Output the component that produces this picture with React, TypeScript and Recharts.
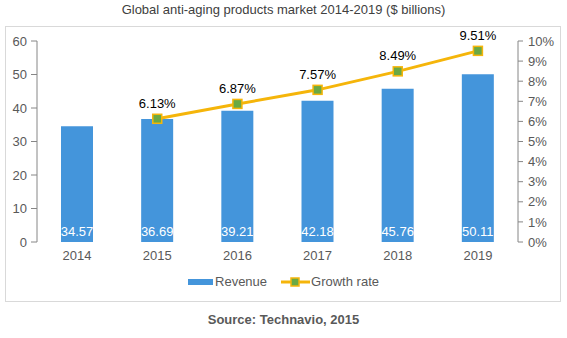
import React from 'react';
import {
  ComposedChart,
  Bar,
  Line,
  XAxis,
  YAxis,
  LabelList,
} from 'recharts';

const years = ['2014', '2015', '2016', '2017', '2018', '2019'];
const revenue = [34.57, 36.69, 39.21, 42.18, 45.76, 50.11];
const growth = [null, 6.13, 6.87, 7.57, 8.49, 9.51];
const leftTicks = [0, 10, 20, 30, 40, 50, 60];
const rightTicks = [0, 1, 2, 3, 4, 5, 6, 7, 8, 9, 10];
const bandTicks = [0, 1, 2, 3, 4, 5, 6];

const data = years.map((year, i) => ({
  year,
  revenue: revenue[i],
  growth: growth[i],
}));

const BAR = '#4495db';
const LINE = '#f5b50a';
const MARK = '#6aa944';
const AXIS = '#868686';
const TEXT = '#595959';
const FONT = '"Liberation Sans", Arial, sans-serif';

const SquareDot = (props: any) => {
  const { cx, cy } = props;
  if (cx == null || cy == null || props.value == null) return null;
  return (
    <rect x={cx - 4.5} y={cy - 4.5} width={9} height={9} fill={MARK} stroke={LINE} strokeWidth={1.5} />
  );
};

const LegendContent = () => (
  <div style={{ display: 'flex', justifyContent: 'center', alignItems: 'center', fontSize: 13, color: TEXT, fontFamily: FONT }}>
    <span style={{ display: 'inline-block', width: 25, height: 6, background: BAR, marginRight: 2 }} />
    <span style={{ marginRight: 14 }}>Revenue</span>
    <svg width={29} height={10} style={{ marginRight: 1 }}>
      <line x1={0} y1={5} x2={29} y2={5} stroke={LINE} strokeWidth={3} />
      <rect x={10} y={1} width={8} height={8} fill={MARK} stroke={LINE} strokeWidth={1.5} />
    </svg>
    <span>Growth rate</span>
  </div>
);

export default function App() {
  return (
    <div style={{ position: 'absolute', left: 0, top: 0, width: 567, height: 338, background: '#fff', fontFamily: FONT }}>
      <div style={{ position: 'absolute', top: 2, left: 0, width: 567, textAlign: 'center', fontSize: 13, color: '#404040' }}>
        Global anti-aging products market 2014-2019 ($ billions)
      </div>
      <div style={{ position: 'absolute', left: 5, top: 26, width: 554, height: 274, border: '1px solid #d9d9d9' }} />
      <div style={{ position: 'absolute', top: 312, left: 0, width: 567, textAlign: 'center', fontSize: 13, fontWeight: 'bold', color: TEXT }}>
        Source: Technavio, 2015
      </div>
      <div style={{ position: 'absolute', left: 0, top: 0 }}>
        <ComposedChart width={567} height={338} data={data} margin={{ top: 41, right: 7, bottom: 66, left: 0 }} barCategoryGap="20%">
          <XAxis
            xAxisId="band"
            type="number"
            domain={[0, 6]}
            ticks={bandTicks}
            tick={{ fontSize: 0 }}
            tickFormatter={() => ''}
            tickSize={5}
            height={0}
            stroke={AXIS}
          />
          <XAxis
            dataKey="year"
            axisLine={false}
            tickLine={false}
            height={30}
            tick={{ fontSize: 13, fill: TEXT }}
            tickMargin={3}
          />
          <YAxis
            yAxisId="left"
            domain={[0, 60]}
            ticks={leftTicks}
            interval={0}
            width={37}
            stroke={AXIS}
            tickSize={6}
            tickMargin={4}
            tick={{ fontSize: 13, fill: TEXT }}
          />
          <YAxis
            yAxisId="right"
            orientation="right"
            domain={[0, 10]}
            ticks={rightTicks}
            interval={0}
            width={42}
            stroke={AXIS}
            tickSize={5}
            tickMargin={5}
            tick={{ fontSize: 13, fill: TEXT, textAnchor: 'start' }}
            tickFormatter={(v: number) => `${v}%`}
          />
          <Bar yAxisId="left" dataKey="revenue" name="Revenue" fill={BAR} barSize={32} isAnimationActive={false}>
            <LabelList dataKey="revenue" position="insideBottom" offset={6} fill="#fff" fontSize={13} formatter={(v: number) => v.toFixed(2)} />
          </Bar>
          <Line
            yAxisId="right"
            dataKey="growth"
            name="Growth rate"
            stroke={LINE}
            strokeWidth={3}
            dot={<SquareDot />}
            activeDot={false}
            connectNulls={false}
            isAnimationActive={false}
          >
            <LabelList dataKey="growth" position="top" offset={11} fill="#000" fontSize={13} formatter={(v: any) => (v == null ? '' : `${v.toFixed(2)}%`)} />
          </Line>
        </ComposedChart>
      </div>
      <div style={{ position: 'absolute', top: 274, left: 0, width: 567 }}>
        <LegendContent />
      </div>
    </div>
  );
}
